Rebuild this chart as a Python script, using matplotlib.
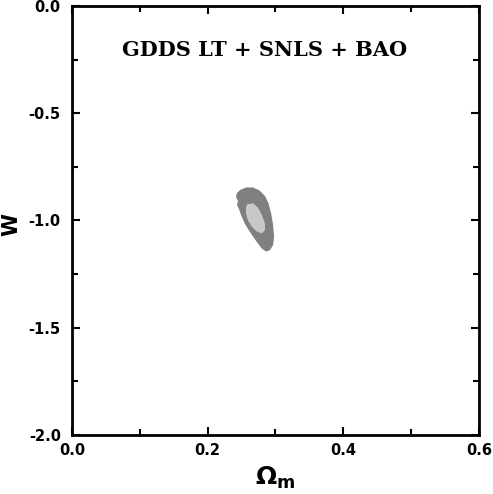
import matplotlib
matplotlib.use('Agg')
import matplotlib.pyplot as plt
from matplotlib.ticker import MultipleLocator

# confidence region outlines (Omega_m, w)
outer_om = [0.2477, 0.2565, 0.2668, 0.2765, 0.2845, 0.2895, 0.2935, 0.2965, 0.2980, 0.2965, 0.2920,
            0.2860, 0.2795, 0.2715, 0.2624, 0.2550, 0.2491, 0.2462, 0.2432, 0.2447, 0.2418, 0.2432]
outer_w = [-0.858, -0.846, -0.846, -0.860, -0.886, -0.918, -0.965, -1.021, -1.077, -1.114, -1.138,
           -1.145, -1.130, -1.096, -1.054, -1.016, -0.974, -0.946, -0.928, -0.909, -0.890, -0.872]
inner_om = [0.2580, 0.2668, 0.2742, 0.2801, 0.2845, 0.2845, 0.2801, 0.2727, 0.2653, 0.2595, 0.2565, 0.2565]
inner_w = [-0.925, -0.920, -0.940, -0.975, -1.015, -1.045, -1.060, -1.052, -1.030, -1.000, -0.968, -0.940]

x_ticks = [0.0, 0.2, 0.4, 0.6]
y_ticks = [0.0, -0.5, -1.0, -1.5, -2.0]

plt.rcParams['font.family'] = ['DejaVu Sans']
plt.rcParams['mathtext.fontset'] = 'dejavusans'

fig = plt.figure(figsize=(4.93, 4.94), dpi=100)
ax = fig.add_axes([0.146, 0.1194, 0.8256, 0.8685])

ax.fill(outer_om, outer_w, color='#808080', lw=0)
ax.fill(inner_om, inner_w, color='#c8c8c8', lw=0)

ax.set_xlim(0.0, 0.6)
ax.set_ylim(-2.0, 0.0)
ax.set_xticks(x_ticks)
ax.set_yticks(y_ticks)
ax.set_xticklabels(['%.1f' % v for v in x_ticks])
ax.set_yticklabels(['%.1f' % v for v in y_ticks])
ax.xaxis.set_minor_locator(MultipleLocator(0.1))
ax.yaxis.set_minor_locator(MultipleLocator(0.25))
ax.tick_params(which='both', direction='in', top=True, right=True, width=1.5)
ax.tick_params(which='major', length=6, labelsize=10.5)
ax.tick_params(axis='x', which='major', pad=6)
ax.tick_params(axis='y', which='major', pad=8)
ax.tick_params(which='minor', length=4)
for lbl in ax.get_xticklabels() + ax.get_yticklabels():
    lbl.set_fontweight('bold')
for sp in ax.spines.values():
    sp.set_linewidth(2)

ax.text(0.2845, -0.205, 'GDDS LT + SNLS + BAO', ha='center', va='center',
        family='DejaVu Serif', fontweight='bold', fontsize=15)
ax.set_xlabel(r'$\mathbf{\Omega_m}$', fontsize=18)
ax.xaxis.set_label_coords(0.5, -0.07)
ax.set_ylabel('W', fontsize=15, fontweight='bold')
ax.yaxis.set_label_coords(-0.125, 0.49)

fig.savefig('out.png', dpi=100)
